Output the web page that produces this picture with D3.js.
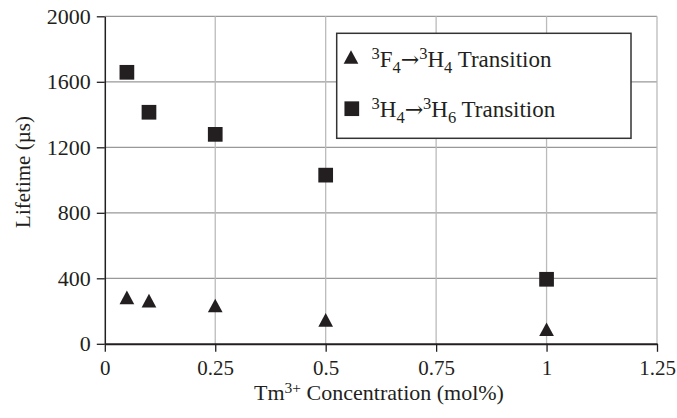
<!DOCTYPE html>
<html>
  <head>
    <title>Lifetime vs Tm3+ Concentration</title>
    <script src="https://d3js.org/d3.v7.min.js"></script>
    <style>
      body { margin: 0; background: #fff; }
      text { font-family: "Liberation Serif", "Times New Roman", serif; fill: #231f20; }
    </style>
  </head>
  <body>
    <script>
      var width = 677;
      var height = 418;

      // data
      var concentration = [0.05, 0.1, 0.25, 0.5, 1];
      var lifetimeF4H4 = [283, 264, 234, 146, 89];
      var lifetimeH4H6 = [1658, 1414, 1279, 1030, 394];
      var xTicks = [0, 0.25, 0.5, 0.75, 1, 1.25];
      var xTickLabels = ["0", "0.25", "0.5", "0.75", "1", "1.25"];
      var yTicks = [0, 400, 800, 1200, 1600, 2000];

      var ink = "#231f20";

      var xScale = d3.scaleLinear().domain([0, 1.25]).range([104.8, 657]);
      var yScale = d3.scaleLinear().domain([0, 2000]).range([343.8, 16.3]);

      var svg = d3.select("body")
        .append("svg")
          .attr("width", width)
          .attr("height", height);

      // grid
      svg.append("g")
        .selectAll("line")
        .data(yTicks.slice(1))
        .enter()
        .append("line")
          .attr("x1", xScale(0))
          .attr("x2", xScale(1.25))
          .attr("y1", function(d) { return yScale(d); })
          .attr("y2", function(d) { return yScale(d); })
          .attr("stroke", "#999")
          .attr("stroke-width", 1.3);

      svg.append("g")
        .selectAll("line")
        .data(xTicks.slice(1))
        .enter()
        .append("line")
          .attr("x1", function(d) { return xScale(d); })
          .attr("x2", function(d) { return xScale(d); })
          .attr("y1", yScale(0))
          .attr("y2", yScale(2000))
          .attr("stroke", "#bbb")
          .attr("stroke-width", 1.3);

      // axes
      var xAxis = d3.axisBottom(xScale)
          .tickValues(xTicks)
          .tickFormat(function(d, i) { return xTickLabels[i]; })
          .tickSize(8)
          .tickPadding(8)
          .tickSizeOuter(0);

      var gx = svg.append("g")
          .attr("transform", "translate(0," + yScale(0) + ")")
          .call(xAxis);
      gx.select(".domain").attr("stroke", ink).attr("stroke-width", 2);
      gx.selectAll(".tick line").attr("stroke", ink).attr("stroke-width", 1.3);
      gx.selectAll(".tick text")
          .style("font-family", "'Liberation Serif', serif")
          .style("font-size", "21px")
          .attr("fill", ink);

      var yAxis = d3.axisLeft(yScale)
          .tickValues(yTicks)
          .tickFormat(d3.format("d"))
          .tickSize(8)
          .tickPadding(6)
          .tickSizeOuter(0);

      var gy = svg.append("g")
          .attr("transform", "translate(" + xScale(0) + ",0)")
          .call(yAxis);
      gy.select(".domain").attr("stroke", ink).attr("stroke-width", 1.5);
      gy.selectAll(".tick line").attr("stroke", ink).attr("stroke-width", 1.3);
      gy.selectAll(".tick text")
          .style("font-family", "'Liberation Serif', serif")
          .style("font-size", "22px")
          .attr("fill", ink);

      // axis titles
      svg.append("text")
          .attr("transform", "translate(30,172) rotate(-90)")
          .attr("text-anchor", "middle")
          .style("font-size", "21px")
          .text("Lifetime (\u00b5s)");

      var xt = svg.append("text")
          .attr("x", 379)
          .attr("y", 400)
          .attr("text-anchor", "middle")
          .style("font-size", "22px");
      xt.append("tspan").text("Tm");
      xt.append("tspan").attr("dy", -7).style("font-size", "15.5px").text("3+");
      xt.append("tspan").attr("dy", 7).text(" Concentration (mol%)");

      // markers
      var squareSize = 14.7;
      svg.append("g")
        .selectAll("rect")
        .data(concentration)
        .enter()
        .append("rect")
          .attr("x", function(d) { return xScale(d) - squareSize / 2; })
          .attr("y", function(d, i) { return yScale(lifetimeH4H6[i]) - squareSize / 2; })
          .attr("width", squareSize)
          .attr("height", squareSize)
          .attr("fill", ink);

      function triangle(cx, cy) {
        var w = 14.7, h = 13.7;
        return "M" + (cx - w / 2) + "," + (cy + h / 2) +
               "L" + cx + "," + (cy - h / 2) +
               "L" + (cx + w / 2) + "," + (cy + h / 2) + "Z";
      }

      svg.append("g")
        .selectAll("path")
        .data(concentration)
        .enter()
        .append("path")
          .attr("d", function(d, i) { return triangle(xScale(d), yScale(lifetimeF4H4[i])); })
          .attr("fill", ink);

      // legend
      var legend = svg.append("g");
      legend.append("rect")
          .attr("x", 336.7)
          .attr("y", 33.3)
          .attr("width", 631 - 336.7)
          .attr("height", 138.3 - 33.3)
          .attr("fill", "#fff")
          .attr("stroke", "#333")
          .attr("stroke-width", 1.5);

      legend.append("path")
          .attr("d", triangle(351, 57))
          .attr("fill", ink);
      legend.append("rect")
          .attr("x", 351.8 - squareSize / 2)
          .attr("y", 108.7 - squareSize / 2)
          .attr("width", squareSize)
          .attr("height", squareSize)
          .attr("fill", ink);

      function legendLabel(y, a, aSub, b, bSub) {
        var t = legend.append("text")
            .attr("x", 371.5)
            .attr("y", y)
            .style("font-size", "23px");
        t.append("tspan").attr("dy", -8).style("font-size", "16.5px").text("3");
        t.append("tspan").attr("dy", 8).text(a);
        t.append("tspan").attr("dy", 6).style("font-size", "16.5px").text(aSub);
        t.append("tspan").attr("dy", -6)
            .style("font-family", "'DejaVu Serif', serif")
            .style("font-size", "22px")
            .text("\u2192");
        t.append("tspan").attr("dy", -8).style("font-size", "16.5px").text("3");
        t.append("tspan").attr("dy", 8).text(b);
        t.append("tspan").attr("dy", 6).style("font-size", "16.5px").text(bSub);
        t.append("tspan").attr("dy", -6).text(" Transition");
      }

      legendLabel(66.7, "F", "4", "H", "4");
      legendLabel(116.7, "H", "4", "H", "6");
    </script>
  </body>
</html>
